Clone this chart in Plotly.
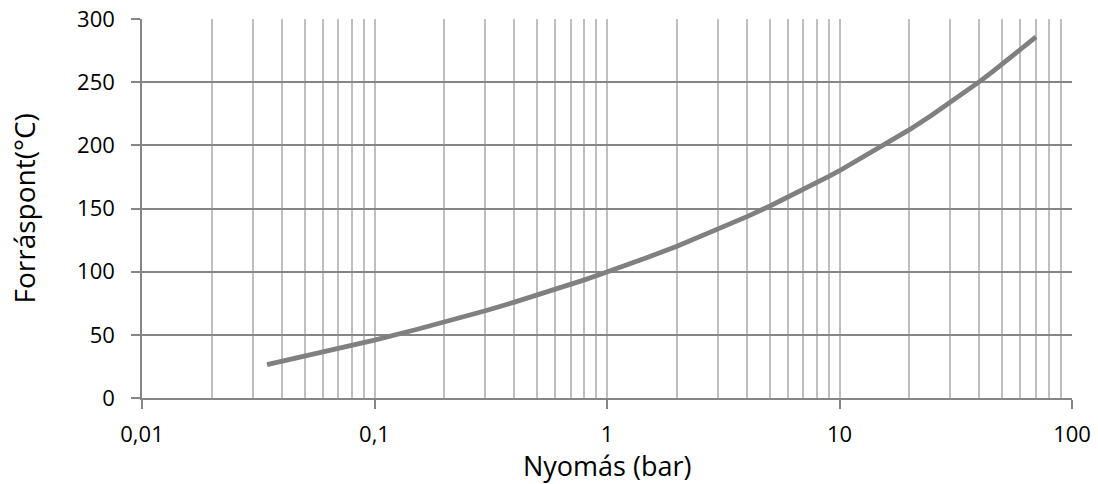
import plotly.graph_objects as go

# Data: saturation pressure (bar) vs boiling point (°C)
pressure_bar = [0.0345, 0.04, 0.05, 0.06, 0.07, 0.08, 0.09, 0.1, 0.15, 0.2, 0.25, 0.3,
                0.4, 0.5, 0.6, 0.7, 0.8, 0.9, 1.0, 1.5, 2, 2.5, 3, 4, 5, 6, 7, 8, 9,
                10, 15, 20, 25, 30, 35, 40, 45, 50, 55, 60, 65, 70]
boiling_c = [26.4, 29.0, 32.9, 36.2, 39.0, 41.5, 43.8, 45.8, 54.0, 60.1, 65.0, 69.1,
             75.9, 81.3, 86.0, 90.0, 93.5, 96.7, 99.6, 111.4, 120.2, 127.4, 133.5, 143.6,
             151.8, 158.8, 165.0, 170.4, 175.4, 179.9, 198.3, 212.4, 224.0, 233.9, 242.6,
             250.4, 257.5, 264.0, 270.0, 275.6, 280.9, 285.8]

x_tick_vals = [0.01, 0.1, 1, 10, 100]
x_tick_text = ["0,01", "0,1", "1", "10", "100"]
x_minor_vals = [m * d for d in [0.01, 0.1, 1, 10] for m in range(2, 10)]
y_tick_vals = [0, 50, 100, 150, 200, 250, 300]
x_title = "Nyomás (bar)"
y_title = "Forráspont(°C)"

FONT = "Open Sans"
AXIS_COLOR = "#868686"
MINOR_GRID = "#bfbfbf"

fig = go.Figure()
fig.add_trace(go.Scatter(
    x=pressure_bar, y=boiling_c, mode="lines",
    line=dict(color="#808080", width=4.8),
    showlegend=False, hoverinfo="x+y",
))

fig.update_layout(
    width=1098, height=484,
    margin=dict(l=142, r=26, t=19, b=86),
    paper_bgcolor="white", plot_bgcolor="white",
    font=dict(family=FONT, size=22, color="#000000"),
    showlegend=False,
)

fig.update_xaxes(
    type="log", range=[-2, 2],
    tickmode="array", tickvals=x_tick_vals, ticktext=x_tick_text,
    ticks="outside", ticklen=9, tickwidth=1.5, tickcolor=AXIS_COLOR,
    ticklabelstandoff=7,
    showline=True, linecolor=AXIS_COLOR, linewidth=1.5,
    showgrid=True, gridcolor=MINOR_GRID, gridwidth=1.5,
    minor=dict(tickmode="array", tickvals=x_minor_vals, showgrid=True,
               gridcolor=MINOR_GRID, gridwidth=1.5, ticks=""),
    tickfont=dict(family=FONT, size=22),
    zeroline=False, automargin=False,
)

fig.update_yaxes(
    range=[0, 300], tickmode="array", tickvals=y_tick_vals,
    ticks="outside", ticklen=9, tickwidth=1.5, tickcolor=AXIS_COLOR,
    ticklabelstandoff=12,
    showline=True, linecolor=AXIS_COLOR, linewidth=1.5,
    showgrid=True, gridcolor=AXIS_COLOR, gridwidth=1.5,
    tickfont=dict(family=FONT, size=22),
    zeroline=False, automargin=False,
)

fig.add_annotation(text=x_title, xref="paper", yref="paper", x=0.5, y=0,
                   yanchor="middle", yshift=-67, showarrow=False,
                   font=dict(family=FONT, size=27, color="#000000"))
fig.add_annotation(text=y_title, xref="paper", yref="paper", x=0, y=0.5,
                   xanchor="center", xshift=-119, textangle=-90, showarrow=False,
                   font=dict(family=FONT, size=28, color="#000000"))

# remove the default 8px page margin so the figure fills the window exactly
fig.write_html("out.html", config={"displayModeBar": False},
               post_script="document.body.style.margin='0';")
